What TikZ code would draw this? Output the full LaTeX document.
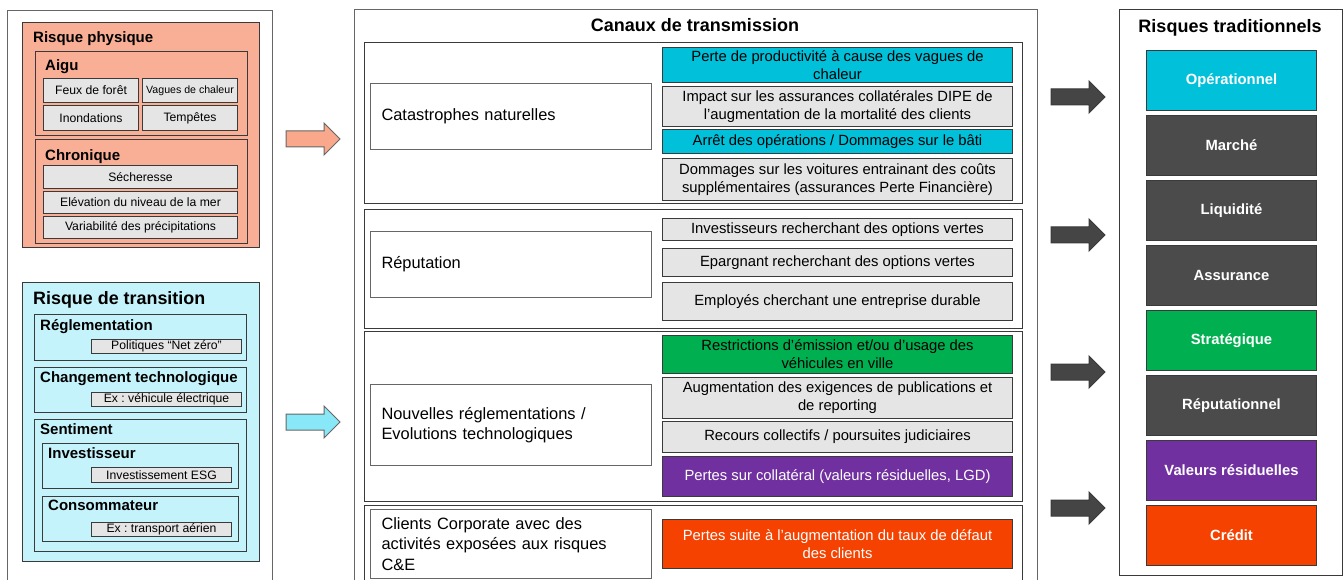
\documentclass[tikz,border=0pt]{standalone}
\usepackage{fontspec}
\setmainfont{Liberation Sans}
\usetikzlibrary{positioning}
\frenchspacing

\definecolor{saumon}{HTML}{F8AF95}
\definecolor{ciel}{HTML}{C5F3FB}
\definecolor{grisclair}{HTML}{E5E5E5}
\definecolor{cyanvif}{HTML}{00C0DA}
\definecolor{vertvif}{HTML}{00B050}
\definecolor{violet}{HTML}{7030A0}
\definecolor{orangevif}{HTML}{F54200}
\definecolor{anthracite}{HTML}{4B4B4B}
\definecolor{bord}{HTML}{3A3A3A}
\definecolor{trait}{HTML}{666666}
\definecolor{flechesombre}{HTML}{454545}
\definecolor{flechesaumon}{HTML}{F9A88C}
\definecolor{flecheciel}{HTML}{88E8F8}

\begin{document}
\begin{tikzpicture}[
			x=1pt, y=-1pt,
			cadre/.style={draw=trait, line width=1pt, anchor=north west, inner sep=0pt},
			bloc/.style={draw=bord, line width=1.1pt, anchor=north west, inner sep=0pt},
			titre/.style={anchor=base west, inner sep=0pt, font=\bfseries\fontsize{15}{18}\selectfont},
			grandtitre/.style={anchor=base, inner sep=0pt, font=\bfseries\fontsize{18}{21}\selectfont},
			case/.style={draw=bord, fill=grisclair, line width=1pt, anchor=north west,
					inner sep=0pt, font=\fontsize{12.2}{14}\selectfont},
			canal/.style={draw=trait, fill=white, line width=1pt, anchor=north west,
					inner xsep=11pt, text width=259pt, align=left, font=\fontsize{16.4}{20.5}\selectfont},
			effet/.style={draw=bord, fill=grisclair, line width=1pt, anchor=north west, inner sep=0pt,
					minimum width=350pt, align=center, font=\fontsize{14.8}{18}\selectfont},
			risque/.style={draw=bord, line width=1pt, anchor=north west, minimum width=170pt,
					minimum height=60pt, inner sep=0pt, text=white, font=\bfseries\fontsize{14.8}{18}\selectfont},
			fleche/.pic={\path[pic actions] (0,-8) -- (38,-8) -- (38,-16) -- (54,0) -- (38,16) -- (38,8) -- (0,8) -- cycle;}
		]
		\clip (0,0) rectangle (1344,580);
		\fill[white] (0,0) rectangle (1344,580);

		% risques climatiques
		\node[cadre, minimum width=265, minimum height=600] (gauche) at (7,10) {};
		\node[bloc, fill=saumon, minimum width=237, minimum height=225] (physique) at (22,22) {};
		\node[titre] (tphysique) at (33,42.4) {Risque physique};
		\node[bloc, minimum width=212, minimum height=84] (aigu) at (35,51) {};
		\node[titre] (taigu) at (45,70.4) {Aigu};
		\node[case, minimum width=95, minimum height=24] (feux) at (43,78) {Feux de forêt};
		\node[case, minimum width=95, minimum height=24, font=\fontsize{10.6}{12}\selectfont] (chaleur) at (142,78) {Vagues de chaleur};
		\node[case, minimum width=95, minimum height=25] (inondations) at (43,105) {Inondations};
		\node[case, minimum width=95, minimum height=25] (tempetes) at (142,105) {Tempêtes};
		\node[bloc, minimum width=212, minimum height=104] (chronique) at (35,139) {};
		\node[titre] (tchronique) at (45,160.4) {Chronique};
		\node[case, minimum width=194, minimum height=23] (secheresse) at (43,165) {Sécheresse};
		\node[case, minimum width=194, minimum height=22] (elevation) at (43,191) {Elévation du niveau de la mer};
		\node[case, minimum width=194, minimum height=22] (precipitations) at (43,216) {Variabilité des précipitations};

		\node[bloc, fill=ciel, minimum width=237, minimum height=279] (transition) at (22,282) {};
		\node[titre, font=\bfseries\fontsize{17.9}{21}\selectfont] (ttransition) at (33,304.4) {Risque de transition};
		\node[bloc, minimum width=212, minimum height=46] (reglementation) at (34,314) {};
		\node[titre] (treglementation) at (40,330.4) {Réglementation};
		\node[case, minimum width=150, minimum height=14] (netzero) at (91,339) {Politiques “Net zéro”};
		\node[bloc, minimum width=212, minimum height=45] (technologie) at (34,367) {};
		\node[titre] (ttechnologie) at (40,382.4) {Changement technologique};
		\node[case, minimum width=150, minimum height=14] (vehicule) at (91,392) {Ex : véhicule électrique};
		\node[bloc, minimum width=212, minimum height=132] (sentiment) at (34,419) {};
		\node[titre] (tsentiment) at (40,434.4) {Sentiment};
		\node[bloc, minimum width=196, minimum height=45] (investisseur) at (42,443) {};
		\node[titre] (tinvestisseur) at (48,458.4) {Investisseur};
		\node[case, minimum width=140, minimum height=15] (esg) at (91,467) {Investissement ESG};
		\node[bloc, minimum width=196, minimum height=45] (consommateur) at (42,496) {};
		\node[titre] (tconsommateur) at (48,510.4) {Consommateur};
		\node[case, minimum width=140, minimum height=14] (aerien) at (91,522) {Ex : transport aérien};

		\pic[draw=trait, line width=1pt, fill=flechesaumon] at (286,139) {fleche};
		\pic[draw=trait, line width=1pt, fill=flecheciel] at (286,422) {fleche};

		% canaux de transmission
		\node[cadre, minimum width=683, minimum height=600] (milieu) at (354,9) {};
		\node[grandtitre] (tcanaux) at (695,31.4) {Canaux de transmission};

		\node[bloc, minimum width=658, minimum height=161] (section1) at (364,42) {};
		\node[canal, minimum height=66] (catastrophes) at (370,83) {Catastrophes naturelles};
		\node[effet, fill=cyanvif, minimum height=35] (productivite) at (662,47) {Perte de productivité à cause des vagues de\\chaleur};
		\node[effet, minimum height=40] (dipe) at (662,86) {Impact sur les assurances collatérales DIPE de\\l’augmentation de la mortalité des clients};
		\node[effet, fill=cyanvif, minimum height=24] (arret) at (662,129) {Arrêt des opérations / Dommages sur le bâti};
		\node[effet, minimum height=42] (voitures) at (662,158) {Dommages sur les voitures entrainant des coûts\\supplémentaires (assurances Perte Financière)};

		\node[bloc, minimum width=658, minimum height=119] (section2) at (364,209) {};
		\node[canal, minimum height=66] (reputation) at (370,231) {Réputation};
		\node[effet, minimum height=22] (investisseurs) at (662,218) {Investisseurs recherchant des options vertes};
		\node[effet, minimum height=28] (epargnant) at (662,248) {Epargnant recherchant des options vertes};
		\node[effet, minimum height=38] (employes) at (662,282) {Employés cherchant une entreprise durable};

		\node[bloc, minimum width=658, minimum height=170] (section3) at (364,331) {};
		\node[canal, minimum height=81] (reglementations) at (370,384) {Nouvelles réglementations /\\Evolutions technologiques};
		\node[effet, fill=vertvif, minimum height=38] (restrictions) at (662,335) {Restrictions d’émission et/ou d’usage des\\véhicules en ville};
		\node[effet, minimum height=41] (publications) at (662,377) {Augmentation des exigences de publications et\\de reporting};
		\node[effet, minimum height=31] (recours) at (662,421) {Recours collectifs / poursuites judiciaires};
		\node[effet, fill=violet, text=white, minimum height=40] (collateral) at (662,456) {Pertes sur collatéral (valeurs résiduelles, LGD)};

		\node[bloc, minimum width=658, minimum height=100] (section4) at (364,505) {};
		\node[canal, minimum height=69] (corporate) at (370,509) {Clients Corporate avec des\\activités exposées aux risques\\C\&E};
		\node[effet, fill=orangevif, text=white, minimum height=49] (defaut) at (662,519) {Pertes suite à l’augmentation du taux de défaut\\des clients};

		% risques traditionnels
		\foreach \y in {97,235,372,508}
		\pic[draw=bord, line width=1pt, fill=flechesombre] at (1051,\y) {fleche};

		\node[cadre, draw=bord, minimum width=223, minimum height=566] (droite) at (1119,9) {};
		\node[grandtitre] (ttraditionnels) at (1230,32.4) {Risques traditionnels};
		\foreach \nom/\teinte/\texte [count=\i from 0] in {
				operationnel/cyanvif/Opérationnel, marche/anthracite/Marché,
				liquidite/anthracite/Liquidité, assurance/anthracite/Assurance,
				strategique/vertvif/Stratégique, reputationnel/anthracite/Réputationnel,
				residuelles/violet/Valeurs résiduelles, credit/orangevif/Crédit}
		\node[risque, fill=\teinte] (\nom) at (1146,{50+65*\i}) {\texte};
	\end{tikzpicture}
\end{document}
